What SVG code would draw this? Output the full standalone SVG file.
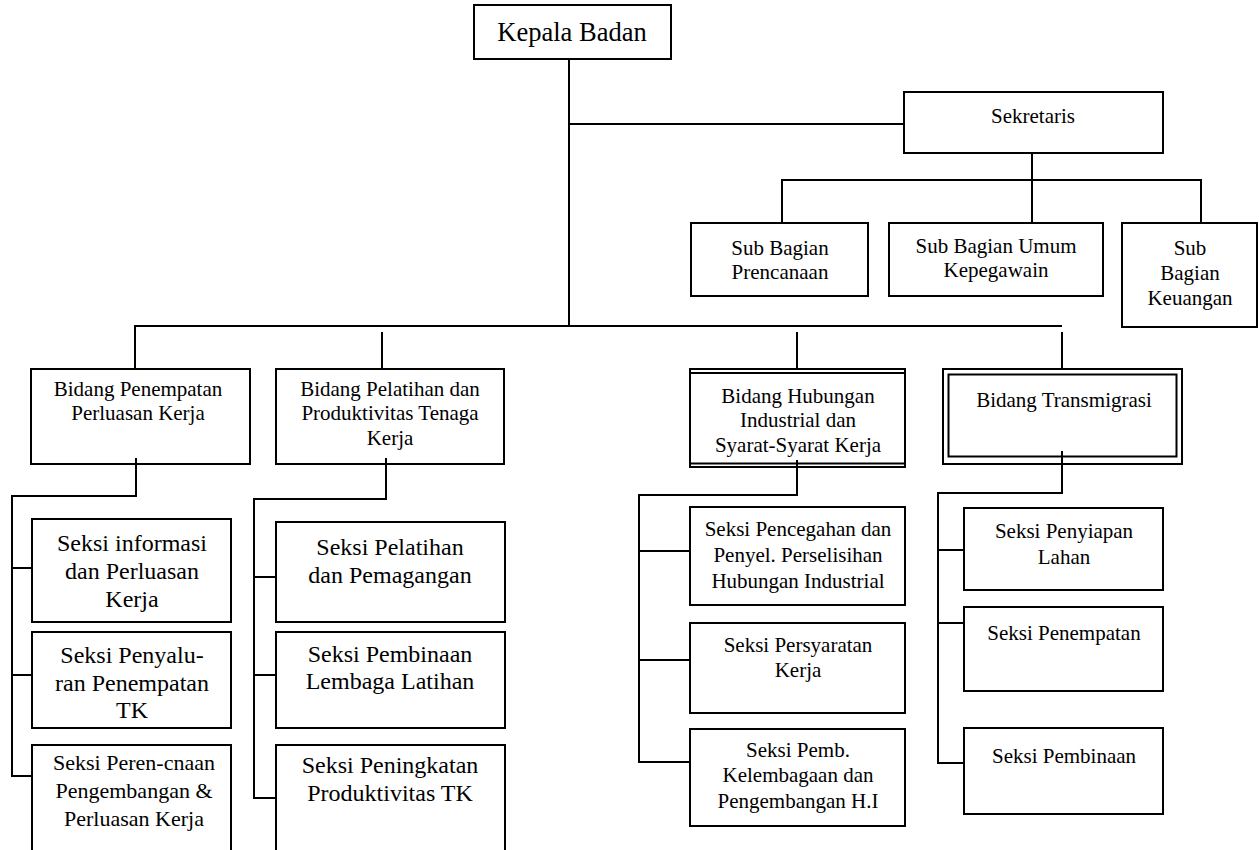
<svg xmlns="http://www.w3.org/2000/svg" width="1259" height="850" viewBox="0 0 1259 850">
<style>
.box{fill:#fff;stroke:#000;stroke-width:2}
.ln{fill:none;stroke:#000;stroke-width:2}
text{font-family:"Liberation Serif","Times New Roman",serif;fill:#000;text-anchor:middle}
.f21{font-size:21px}
.f22{font-size:22px}
.f24{font-size:24px}
.f26{font-size:26.5px}
</style>
<rect width="1259" height="850" fill="#fff"/>
<g id="kepala"><rect class="box" x="474" y="5" width="197" height="54"/><text class="f26" x="572" y="41">Kepala Badan</text></g>
<g id="sekretaris"><rect class="box" x="904" y="92" width="259" height="61"/><text class="f21" x="1033" y="123">Sekretaris</text></g>
<g id="sub-prencanaan"><rect class="box" x="691" y="223" width="177" height="73"/><text class="f21" x="780" y="255">Sub Bagian</text><text class="f21" x="780" y="279">Prencanaan</text></g>
<g id="sub-umum"><rect class="box" x="889" y="223" width="214" height="73"/><text class="f21" x="996" y="253">Sub Bagian Umum</text><text class="f21" x="996" y="277">Kepegawain</text></g>
<g id="sub-keuangan"><rect class="box" x="1122" y="223" width="135" height="104"/><text class="f21" x="1190" y="255">Sub</text><text class="f21" x="1190" y="280">Bagian</text><text class="f21" x="1190" y="305">Keuangan</text></g>
<g id="bidang-penempatan"><rect class="box" x="31" y="369" width="219" height="95"/><text class="f21" x="138" y="396">Bidang Penempatan</text><text class="f21" x="138" y="420">Perluasan Kerja</text></g>
<g id="bidang-pelatihan"><rect class="box" x="276" y="369" width="228" height="95"/><text class="f21" x="390" y="396">Bidang Pelatihan dan</text><text class="f21" x="390" y="420">Produktivitas Tenaga</text><text class="f21" x="390" y="445">Kerja</text></g>
<g id="bidang-hubungan"><rect class="box" x="690" y="369" width="215" height="98"/><path class="ln" d="M690 373H905M690 463.5H905"/><text class="f21" x="798" y="403">Bidang Hubungan</text><text class="f21" x="798" y="427">Industrial dan</text><text class="f21" x="798" y="452">Syarat-Syarat Kerja</text></g>
<g id="bidang-transmigrasi"><rect class="box" x="943" y="369" width="239" height="95"/><rect class="box" x="948.5" y="374.5" width="228" height="82"/><text class="f21" x="1064" y="407">Bidang Transmigrasi</text></g>
<g id="seksi-informasi"><rect class="box" x="32" y="519" width="199" height="103"/><text class="f24" x="132" y="551">Seksi informasi</text><text class="f24" x="132" y="579">dan Perluasan</text><text class="f24" x="132" y="607">Kerja</text></g>
<g id="seksi-penyaluran"><rect class="box" x="32" y="632" width="199" height="96"/><text class="f24" x="132" y="663">Seksi Penyalu-</text><text class="f24" x="132" y="691">ran Penempatan</text><text class="f24" x="132" y="718">TK</text></g>
<g id="seksi-perencanaan"><rect class="box" x="32" y="745" width="199" height="120"/><text class="f22" x="134" y="770">Seksi Peren-cnaan</text><text class="f22" x="134" y="798">Pengembangan &amp;</text><text class="f22" x="134" y="826">Perluasan Kerja</text></g>
<g id="seksi-pelatihan"><rect class="box" x="276" y="522" width="229" height="100"/><text class="f24" x="390" y="555">Seksi Pelatihan</text><text class="f24" x="390" y="583">dan Pemagangan</text></g>
<g id="seksi-pembinaan-lembaga"><rect class="box" x="276" y="632" width="229" height="96"/><text class="f24" x="390" y="662">Seksi Pembinaan</text><text class="f24" x="390" y="689">Lembaga Latihan</text></g>
<g id="seksi-peningkatan"><rect class="box" x="276" y="745" width="229" height="120"/><text class="f24" x="390" y="773">Seksi Peningkatan</text><text class="f24" x="390" y="801">Produktivitas TK</text></g>
<g id="seksi-pencegahan"><rect class="box" x="690" y="507" width="215" height="98"/><text class="f21" x="798" y="536">Seksi Pencegahan dan</text><text class="f21" x="798" y="562">Penyel. Perselisihan</text><text class="f21" x="798" y="588">Hubungan Industrial</text></g>
<g id="seksi-persyaratan"><rect class="box" x="690" y="623" width="215" height="90"/><text class="f21" x="798" y="652">Seksi Persyaratan</text><text class="f21" x="798" y="677">Kerja</text></g>
<g id="seksi-pemb-kelembagaan"><rect class="box" x="690" y="729" width="215" height="97"/><text class="f21" x="798" y="757">Seksi Pemb.</text><text class="f21" x="798" y="782">Kelembagaan dan</text><text class="f21" x="798" y="808">Pengembangan H.I</text></g>
<g id="seksi-penyiapan"><rect class="box" x="964" y="508" width="199" height="82"/><text class="f21" x="1064" y="538">Seksi Penyiapan</text><text class="f21" x="1064" y="564">Lahan</text></g>
<g id="seksi-penempatan"><rect class="box" x="964" y="607" width="199" height="84"/><text class="f21" x="1064" y="640">Seksi Penempatan</text></g>
<g id="seksi-pembinaan"><rect class="box" x="964" y="728" width="199" height="86"/><text class="f21" x="1064" y="763">Seksi Pembinaan</text></g>
<g id="connectors" class="ln">
<path class="ln" d="M569 59V327"/>
<path class="ln" d="M569 124H904"/>
<path class="ln" d="M1032 153V223"/>
<path class="ln" d="M782 223V180H1201V223"/>
<path class="ln" d="M135 369V326H1062"/>
<path class="ln" d="M382 332V369"/>
<path class="ln" d="M797 332V369"/>
<path class="ln" d="M1062 332V369"/>
<path class="ln" d="M136 458V496H12V776H32M12 568H32M12 675H32"/>
<path class="ln" d="M386 458V499H254V798H276M254 577H276M254 675H276"/>
<path class="ln" d="M797 460V495H639V762H690M639 551H690M639 660H690"/>
<path class="ln" d="M1062 451V493H938V763H964M938 550H964M938 623H964"/>
</g>
</svg>
